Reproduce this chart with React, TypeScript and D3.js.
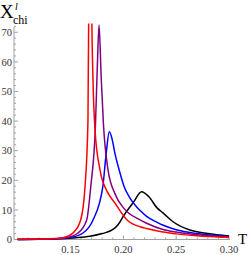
import React from "react";
import * as d3 from "d3";

const X_TICKS = [0.15, 0.2, 0.25, 0.3];
const X_TICK_LABELS = ["0.15", "0.20", "0.25", "0.30"];
const Y_TICKS = [0, 10, 20, 30, 40, 50, 60, 70];

const T_RED = [0.1, 0.12, 0.135, 0.143, 0.1523, 0.1596, 0.1637, 0.1665, 0.1672, 0.1686, 0.17, 0.1712, 0.1732, 0.1779, 0.185, 0.1921, 0.2035, 0.2158, 0.222, 0.2375, 0.25, 0.2694, 0.3];
const V_RED = [0.05, 0.15, 0.3, 0.6, 2.2, 6.6, 17.7, 40, 75, 300, 80, 55, 37, 23.5, 16, 12.3, 6.6, 4.3, 3.7, 2.5, 1.9, 1.25, 0.7];

const T_PURPLE = [0.1, 0.12, 0.135, 0.146, 0.1571, 0.1653, 0.1691, 0.1736, 0.1755, 0.177, 0.179, 0.1812, 0.1855, 0.192, 0.2006, 0.2158, 0.222, 0.2375, 0.25, 0.2694, 0.3];
const V_PURPLE = [0.03, 0.1, 0.25, 0.6, 2.2, 6.6, 17.7, 38.7, 60, 72.5, 55, 38.7, 23.5, 15.5, 10.5, 6.6, 5.5, 3.4, 2.5, 1.6, 0.85];

const T_BLUE = [0.1, 0.12, 0.135, 0.15, 0.1618, 0.1713, 0.1805, 0.1836, 0.1867, 0.1893, 0.1921, 0.1968, 0.2006, 0.2063, 0.2164, 0.222, 0.232, 0.2378, 0.25, 0.2694, 0.3];
const V_BLUE = [0.02, 0.08, 0.2, 0.7, 2.2, 6.6, 17.7, 28.5, 36.4, 34, 29, 22.5, 18, 14, 9.6, 7.8, 5.8, 4.8, 3.3, 2.0, 1.0];

const T_BLACK = [0.1, 0.12, 0.14, 0.155, 0.1684, 0.18, 0.1902, 0.195, 0.2006, 0.21, 0.2172, 0.224, 0.2321, 0.2375, 0.247, 0.263, 0.28, 0.3];
const V_BLACK = [0.02, 0.1, 0.3, 0.6, 1.1, 2.0, 3.4, 5.0, 8.2, 12.8, 16.1, 14.5, 10.6, 9.0, 6.0, 3.2, 2.0, 1.2];

const SERIES = [
  { t: T_BLACK, v: V_BLACK, color: "#000000" },
  { t: T_BLUE, v: V_BLUE, color: "#0000ff" },
  { t: T_PURPLE, v: V_PURPLE, color: "#800080" },
  { t: T_RED, v: V_RED, color: "#ff0000" },
];

export default function App() {
  const W = 249, H = 255;
  const x = d3.scaleLinear().domain([0.0965, 0.3]).range([14, 229]);
  const y = d3.scaleLinear().domain([0, 73]).range([239.5, 23.4]);
  const line = d3
    .line<[number, number]>()
    .x((d) => x(d[0]))
    .y((d) => y(d[1]))
    .curve(d3.curveMonotoneX);
  const minorX = d3.range(0.1, 0.3001, 0.01).filter((t) => !X_TICKS.some((m) => Math.abs(m - t) < 1e-6));
  const minorY = d3.range(0, 73, 2).filter((v) => v % 10 !== 0);
  const axisColor = "#a0a0a0";
  const font = "'Liberation Serif', 'DejaVu Serif', serif";
  return (
    <svg width={W} height={H} style={{ position: "absolute", left: 0, top: 0 }} fontFamily={font}>
      <defs>
        <clipPath id="plotclip">
          <rect x={14} y={y(73)} width={216} height={y(0) - y(73) + 2} />
        </clipPath>
      </defs>
      {/* axes */}
      <line x1={14} x2={230} y1={y(0)} y2={y(0)} stroke={axisColor} strokeWidth={1} />
      <line x1={14} x2={14} y1={y(0)} y2={27} stroke={axisColor} strokeWidth={1} />
      {X_TICKS.map((t) => (
        <line key={"xm" + t} x1={x(t)} x2={x(t)} y1={y(0)} y2={y(0) - 4} stroke={axisColor} />
      ))}
      {minorX.map((t) => (
        <line key={"xn" + t} x1={x(t)} x2={x(t)} y1={y(0)} y2={y(0) - 2} stroke={axisColor} />
      ))}
      {Y_TICKS.map((v) => (
        <line key={"ym" + v} x1={14} x2={18} y1={y(v)} y2={y(v)} stroke={axisColor} />
      ))}
      {minorY.map((v) => (
        <line key={"yn" + v} x1={14} x2={16} y1={y(v)} y2={y(v)} stroke={axisColor} />
      ))}
      {X_TICKS.map((t, i) => (
        <text key={"xl" + t} x={x(t)} y={253} fontSize={10.5} textAnchor="middle" fill="#333">
          {X_TICK_LABELS[i]}
        </text>
      ))}
      {Y_TICKS.map((v) => (
        <text key={"yl" + v} x={12} y={y(v) + 3.7} fontSize={10.5} textAnchor="end" fill="#333">
          {v}
        </text>
      ))}
      {/* curves */}
      <g clipPath="url(#plotclip)">
        {SERIES.map((s, i) => (
          <path
            key={i}
            d={line(s.t.map((t, j) => [t, s.v[j]] as [number, number])) || ""}
            fill="none"
            stroke={s.color}
            strokeWidth={1.5}
          />
        ))}
      </g>
      {/* labels */}
      <text x={0} y={18} fontSize={19}>X</text>
      <text x={13} y={24} fontSize={12}>chi</text>
      <text x={15} y={10} fontSize={10} fontStyle="italic">l</text>
      <text x={238} y={244} fontSize={15}>T</text>
    </svg>
  );
}
